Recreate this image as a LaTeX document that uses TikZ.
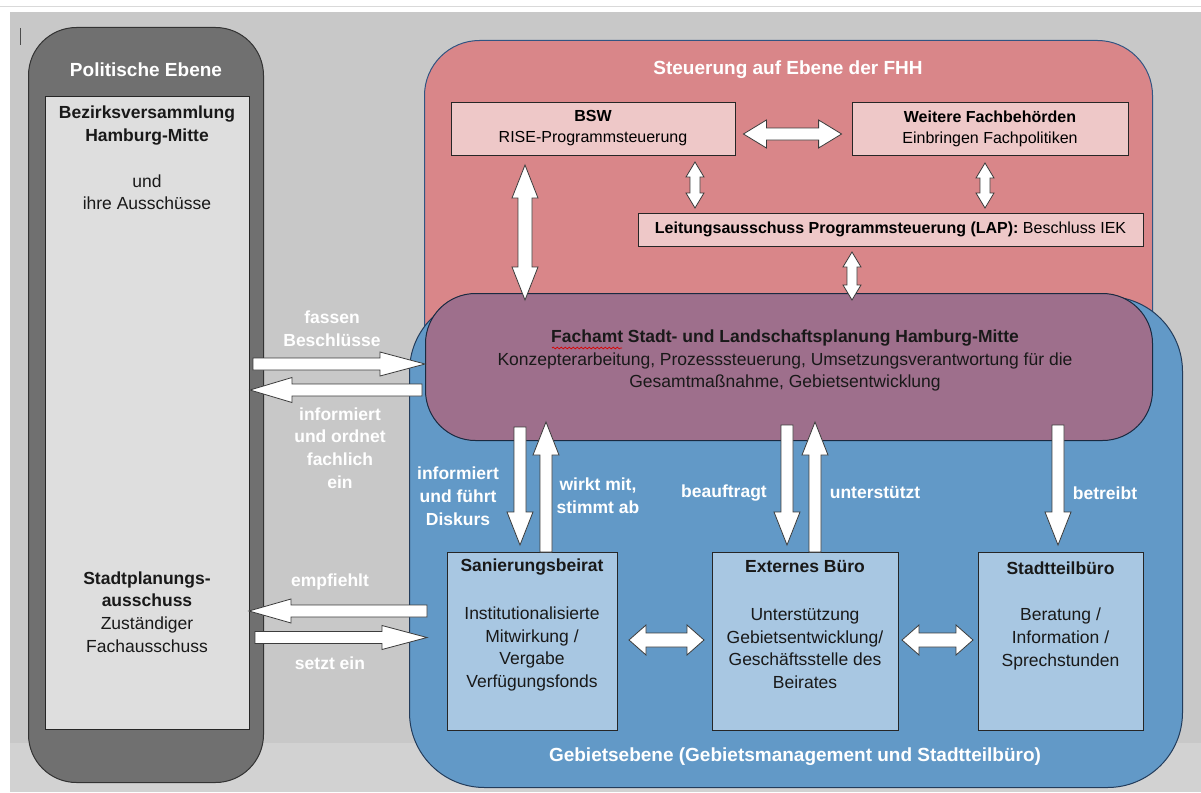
\documentclass[tikz,border=0pt]{standalone}
\usepackage{fontspec}
\setmainfont{Liberation Sans}
\usetikzlibrary{calc,decorations.pathmorphing}

\definecolor{bggray}{RGB}{200,200,200}
\definecolor{bglight}{RGB}{210,210,210}
\definecolor{poldark}{RGB}{112,112,112}
\definecolor{pollight}{RGB}{222,222,222}
\definecolor{redpanel}{RGB}{217,134,137}
\definecolor{pinkbox}{RGB}{238,200,200}
\definecolor{purplepanel}{RGB}{158,111,140}
\definecolor{bluepanel}{RGB}{98,153,199}
\definecolor{lightblue}{RGB}{168,199,226}
\definecolor{edgeblue}{RGB}{50,85,130}
\definecolor{arrowedge}{RGB}{60,60,60}

% single block arrow: #1 start, #2 tip, #3 shaft half width, #4 head half width, #5 head length
\newcommand\sblockarrow[5]{%
  \coordinate (sa-c) at ($(#2)!#5!(#1)$);
  \draw[blockarrow] ($(#1)!#3!90:(#2)$) -- ($(sa-c)!#3!-90:(#1)$) -- ($(sa-c)!#4!-90:(#1)$) -- (#2)
    -- ($(sa-c)!#4!90:(#1)$) -- ($(sa-c)!#3!90:(#1)$) -- ($(#1)!#3!-90:(#2)$) -- cycle;}
% double block arrow
\newcommand\dblockarrow[5]{%
  \coordinate (da-a) at ($(#1)!#5!(#2)$);
  \coordinate (da-b) at ($(#2)!#5!(#1)$);
  \draw[blockarrow] (#1) -- ($(da-a)!#4!90:(#2)$) -- ($(da-a)!#3!90:(#2)$) -- ($(da-b)!#3!-90:(#1)$)
    -- ($(da-b)!#4!-90:(#1)$) -- (#2) -- ($(da-b)!#4!90:(#1)$) -- ($(da-b)!#3!90:(#1)$)
    -- ($(da-a)!#3!-90:(#2)$) -- ($(da-a)!#4!-90:(#2)$) -- cycle;}

\begin{document}
\begin{tikzpicture}[x=1pt,y=-1pt,
  panelbox/.style={inner sep=0pt, anchor=north west},
  pinkbx/.style={draw=black!85, fill=pinkbox, line width=0.8pt, inner sep=0pt, align=center, font=\fontsize{16}{21}\selectfont},
  bluebx/.style={draw=black!85, fill=lightblue, line width=0.8pt, inner sep=0pt},
  blockarrow/.style={fill=white, draw=arrowedge, line width=0.8pt, line join=miter},
  whitelbl/.style={text=white, font=\fontsize{17.5}{22.8}\selectfont\bfseries, align=center, inner sep=0pt},
  ttl/.style={text=white, font=\fontsize{19}{23}\selectfont\bfseries, inner sep=0pt},
  bodytxt/.style={font=\fontsize{17.5}{22.8}\selectfont, align=center, inner sep=0pt, text=black!90},
  boldtxt/.style={font=\fontsize{17.5}{22.8}\selectfont\bfseries, align=center, inner sep=0pt, text=black!90}
]
\useasboundingbox (0,0) rectangle (1201,792);
\fill[white] (0,0) rectangle (1201,792);
\fill[bggray] (10,12) rectangle (1201,792);
\fill[bglight] (10,743) rectangle (1201,792);
\draw[black!15, line width=0.8pt] (0,6) -- (1201,6);
\draw[black!70, line width=0.8pt] (20,28) -- (20,45);

% ---------- Politische Ebene ----------
\node[panelbox, draw=black!80, fill=poldark, rounded corners=48pt, minimum width=235pt, minimum height=755pt, line width=1pt] (pol) at (28,27) {};
\node[panelbox, draw=black!85, fill=pollight, minimum width=204pt, minimum height=633pt, line width=0.8pt] (polin) at (45,96) {};
\node[ttl] (polT) at (146,70) {Politische Ebene};
\node[bodytxt] (bvT) at (147,158) {\textbf{Bezirksversammlung}\\\textbf{Hamburg-Mitte}\\[22.8pt]und\\ihre Ausschüsse};
\node[bodytxt] (spaT) at (147,612) {\textbf{Stadtplanungs-}\\\textbf{ausschuss}\\Zuständiger\\Fachausschuss};

% ---------- Panels ----------
\node[panelbox, draw=edgeblue, fill=redpanel, rounded corners=55pt, minimum width=728pt, minimum height=360pt, line width=1pt] (fhh) at (424,40) {};
\node[panelbox, draw=edgeblue!70!black, fill=bluepanel, rounded corners=75pt, minimum width=773pt, minimum height=491pt, line width=1pt] (geb) at (409,296) {};
\node[panelbox, draw=edgeblue!50!black, fill=purplepanel, rounded corners=50pt, minimum width=727pt, minimum height=147pt, line width=1pt] (fach) at (425,293) {};

\node[ttl] (fhhT) at (788,70) {Steuerung auf Ebene der FHH};
\node[ttl] (gebT) at (795,757) {Gebietsebene (Gebietsmanagement und Stadtteilbüro)};

% ---------- FHH boxes ----------
\node[pinkbx, minimum width=284pt, minimum height=53pt] (bsw) at (593,128.5) {\textbf{BSW}\\RISE-Programmsteuerung};
\node[pinkbx, minimum width=276pt, minimum height=53pt] (wfb) at (990,128.5) {\textbf{Weitere Fachbehörden}\\Einbringen Fachpolitiken};
\node[pinkbx, minimum width=505pt, minimum height=33pt] (lap) at (890.5,229.5) {\textbf{Leitungsausschuss Programmsteuerung (LAP):} Beschluss IEK};

% ---------- Fachamt ----------
\node[font=\fontsize{17.5}{22.5}\selectfont, align=center, inner sep=0pt, text=black!90] (fachT) at (785,360.5) {\textbf{Fachamt Stadt- und Landschaftsplanung Hamburg-Mitte}\\Konzepterarbeitung, Prozesssteuerung, Umsetzungsverantwortung für die\\Gesamtmaßnahme, Gebietsentwicklung};
\coordinate (sq1) at (552,348);
\coordinate (sq2) at (622,348);
\draw[red!85!black, line width=0.7pt, decorate, decoration={snake, amplitude=0.9pt, segment length=4pt}] (sq1) -- (sq2);

% ---------- Gebiet boxes ----------
\node[bluebx, minimum width=170pt, minimum height=178pt] (san) at (532,641) {};
\node[bluebx, minimum width=186pt, minimum height=178pt] (ext) at (805,641) {};
\node[bluebx, minimum width=165pt, minimum height=178pt] (stb) at (1060.5,641) {};
\node[boldtxt] (sanT) at (532,567) {Sanierungsbeirat};
\node[boldtxt] (extT) at (805,567) {Externes Büro};
\node[boldtxt] (stbT) at (1060.5,568) {Stadtteilbüro};
\node[bodytxt] (sanB) at (532,649) {Institutionalisierte\\Mitwirkung /\\Vergabe\\Verfügungsfonds};
\node[bodytxt] (extB) at (805,648.5) {Unterstützung\\Gebietsentwicklung/\\Geschäftsstelle des\\Beirates};
\node[bodytxt] (stbB) at (1060.5,639) {Beratung /\\Information /\\Sprechstunden};

% ---------- Labels ----------
\node[whitelbl] (l1) at (332,328.5) {fassen\\Beschlüsse};
\node[whitelbl] (l2) at (340,448) {informiert\\und ordnet\\fachlich\\ein};
\node[whitelbl] (l3) at (458,496) {informiert\\und führt\\Diskurs};
\node[whitelbl] (l4) at (598,496) {wirkt mit,\\stimmt ab};
\node[whitelbl] (l5) at (724,493) {beauftragt};
\node[whitelbl] (l6) at (875,493) {unterstützt};
\node[whitelbl] (l7) at (1105,493) {betreibt};
\node[whitelbl] (l8) at (330,582) {empfiehlt};
\node[whitelbl] (l9) at (330,663) {setzt ein};

% ---------- Arrow end points ----------
\coordinate (bw1) at ($(bsw.east)+(8,5.5)$);
\coordinate (bw2) at ($(wfb.west)+(-10,5.5)$);
\coordinate (bl1) at (695,162);
\coordinate (bl2) at (695,208);
\coordinate (wl1) at (985,163);
\coordinate (wl2) at (985,208);
\coordinate (lf1) at (852,252);
\coordinate (lf2) at (852,300);
\coordinate (bf1) at (525,165);
\coordinate (bf2) at (525,300);

\coordinate (fb1) at (253,364);
\coordinate (fb2) at (fach.west |- fb1);
\coordinate (io1) at (422,390);
\coordinate (io2) at (250,390);
\coordinate (em1) at (427,611);
\coordinate (em2) at (249,611);
\coordinate (se1) at (255,637.5);
\coordinate (se2) at (427,637.5);

\coordinate (fs1) at (520,427);
\coordinate (fs2) at (520,545);
\coordinate (sf1) at (546,552);
\coordinate (sf2) at (546,422);
\coordinate (fe1) at (787,425);
\coordinate (fe2) at (787,545);
\coordinate (ef1) at (815,552);
\coordinate (ef2) at (815,422);
\coordinate (ft1) at (1058,425);
\coordinate (ft2) at (1058,545);

\coordinate (se3) at (629,640);
\coordinate (se4) at (704,640);
\coordinate (et1) at (902,640);
\coordinate (et2) at (973,640);

% ---------- Arrows ----------
\dblockarrow{bw1}{bw2}{6pt}{14pt}{23pt}
\dblockarrow{bl1}{bl2}{5pt}{9pt}{15pt}
\dblockarrow{wl1}{wl2}{5pt}{9pt}{15pt}
\dblockarrow{lf1}{lf2}{5pt}{9pt}{15pt}
\dblockarrow{bf1}{bf2}{7pt}{13pt}{33pt}

\sblockarrow{fb1}{fb2}{6pt}{12pt}{45pt}
\sblockarrow{io1}{io2}{6pt}{12.5pt}{42pt}
\sblockarrow{em1}{em2}{6pt}{12pt}{42pt}
\sblockarrow{se1}{se2}{6pt}{12pt}{45pt}

\sblockarrow{fs1}{fs2}{6pt}{13pt}{33pt}
\sblockarrow{sf1}{sf2}{6pt}{13pt}{33pt}
\sblockarrow{fe1}{fe2}{6pt}{13pt}{33pt}
\sblockarrow{ef1}{ef2}{6pt}{13pt}{33pt}
\sblockarrow{ft1}{ft2}{6pt}{13pt}{33pt}

\dblockarrow{se3}{se4}{7pt}{15pt}{17pt}
\dblockarrow{et1}{et2}{7pt}{15pt}{17pt}
\end{tikzpicture}
\end{document}
